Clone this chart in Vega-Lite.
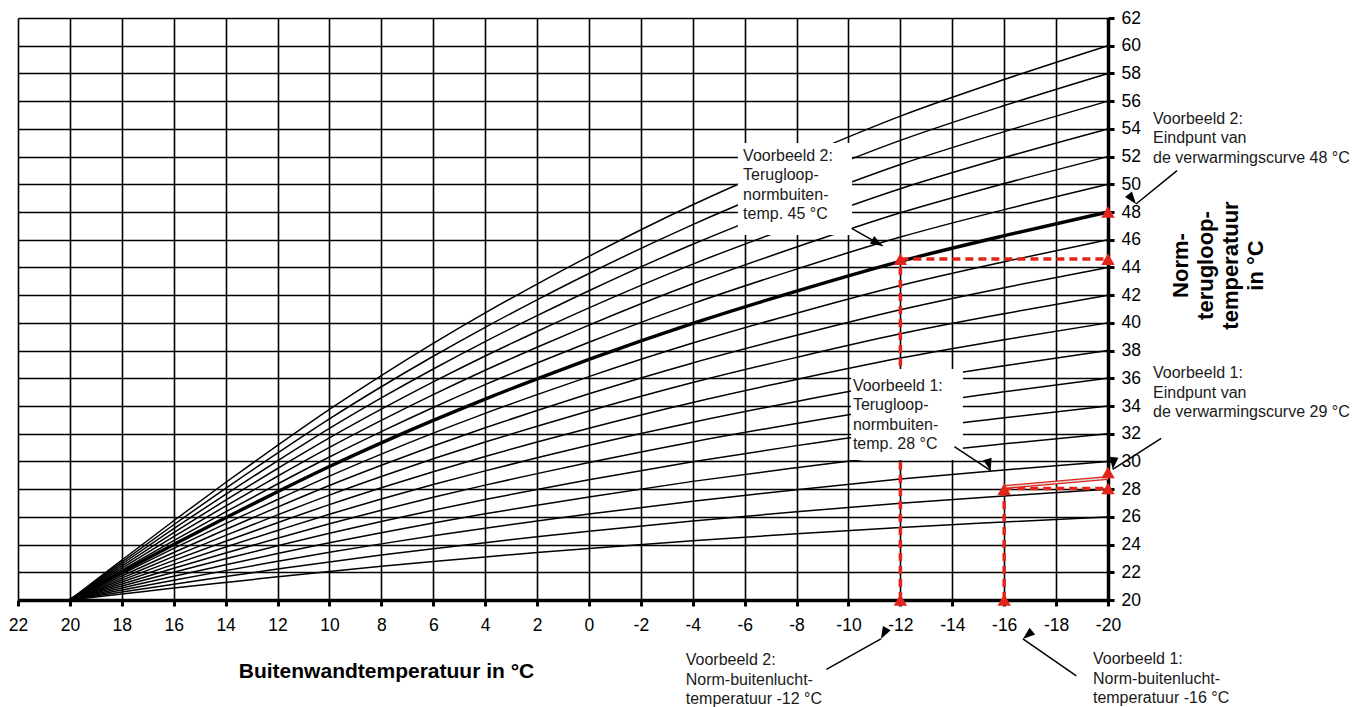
{
  "$schema": "https://vega.github.io/schema/vega-lite/v6.json",
  "width": 1090,
  "height": 582,
  "autosize": {"type": "none"},
  "padding": {"left": 18, "top": 18, "right": 245, "bottom": 107},
  "background": "white",
  "config": {
    "view": {"stroke": null},
    "font": "Liberation Sans",
    "axis": {"labelFont": "Liberation Sans", "titleFont": "Liberation Sans"}
  },
  "datasets": {
    "curves": [
      {"x": 20, "26": 20, "28": 20, "30": 20, "32": 20, "34": 20, "36": 20, "38": 20, "40": 20, "42": 20, "44": 20, "46": 20, "48": 20, "50": 20, "52": 20, "54": 20, "56": 20, "58": 20, "60": 20},
      {"x": 18, "26": 20.43, "28": 20.58, "30": 20.72, "32": 20.86, "34": 21.01, "36": 21.15, "38": 21.30, "40": 21.44, "42": 21.58, "44": 21.73, "46": 21.87, "48": 22.02, "50": 22.16, "52": 22.30, "54": 22.45, "56": 22.59, "58": 22.74, "60": 22.88},
      {"x": 16, "26": 20.86, "28": 21.14, "30": 21.43, "32": 21.72, "34": 22.00, "36": 22.29, "38": 22.57, "40": 22.86, "42": 23.15, "44": 23.43, "46": 23.72, "48": 24.00, "50": 24.29, "52": 24.58, "54": 24.86, "56": 25.15, "58": 25.43, "60": 25.72},
      {"x": 14, "26": 21.27, "28": 21.70, "30": 22.12, "32": 22.54, "34": 22.97, "36": 23.39, "38": 23.82, "40": 24.24, "42": 24.66, "44": 25.09, "46": 25.51, "48": 25.94, "50": 26.36, "52": 26.78, "54": 27.21, "56": 27.63, "58": 28.06, "60": 28.48},
      {"x": 12, "26": 21.67, "28": 22.23, "30": 22.79, "32": 23.35, "34": 23.91, "36": 24.46, "38": 25.02, "40": 25.58, "42": 26.14, "44": 26.70, "46": 27.25, "48": 27.81, "50": 28.37, "52": 28.93, "54": 29.49, "56": 30.04, "58": 30.60, "60": 31.16},
      {"x": 10, "26": 22.06, "28": 22.75, "30": 23.44, "32": 24.13, "34": 24.82, "36": 25.50, "38": 26.19, "40": 26.88, "42": 27.57, "44": 28.26, "46": 28.94, "48": 29.63, "50": 30.32, "52": 31.01, "54": 31.70, "56": 32.38, "58": 33.07, "60": 33.76},
      {"x": 8, "26": 22.43, "28": 23.24, "30": 24.05, "32": 24.86, "34": 25.67, "36": 26.48, "38": 27.29, "40": 28.10, "42": 28.91, "44": 29.72, "46": 30.53, "48": 31.34, "50": 32.15, "52": 32.96, "54": 33.77, "56": 34.58, "58": 35.39, "60": 36.20},
      {"x": 6, "26": 22.78, "28": 23.70, "30": 24.63, "32": 25.56, "34": 26.48, "36": 27.41, "38": 28.33, "40": 29.26, "42": 30.19, "44": 31.11, "46": 32.04, "48": 32.96, "50": 33.89, "52": 34.82, "54": 35.74, "56": 36.67, "58": 37.59, "60": 38.52},
      {"x": 4, "26": 23.11, "28": 24.14, "30": 25.18, "32": 26.22, "34": 27.25, "36": 28.29, "38": 29.32, "40": 30.36, "42": 31.40, "44": 32.43, "46": 33.47, "48": 34.50, "50": 35.54, "52": 36.58, "54": 37.61, "56": 38.65, "58": 39.68, "60": 40.72},
      {"x": 2, "26": 23.42, "28": 24.56, "30": 25.70, "32": 26.84, "34": 27.98, "36": 29.12, "38": 30.26, "40": 31.40, "42": 32.54, "44": 33.68, "46": 34.82, "48": 35.96, "50": 37.10, "52": 38.24, "54": 39.38, "56": 40.52, "58": 41.66, "60": 42.80},
      {"x": 0, "26": 23.72, "28": 24.96, "30": 26.20, "32": 27.44, "34": 28.68, "36": 29.92, "38": 31.16, "40": 32.40, "42": 33.64, "44": 34.88, "46": 36.12, "48": 37.36, "50": 38.60, "52": 39.84, "54": 41.08, "56": 42.32, "58": 43.56, "60": 44.80},
      {"x": -4, "26": 24.28, "28": 25.70, "30": 27.13, "32": 28.56, "34": 29.98, "36": 31.41, "38": 32.83, "40": 34.26, "42": 35.69, "44": 37.11, "46": 38.54, "48": 39.96, "50": 41.39, "52": 42.82, "54": 44.24, "56": 45.67, "58": 47.09, "60": 48.52},
      {"x": -8, "26": 24.78, "28": 26.37, "30": 27.96, "32": 29.55, "34": 31.14, "36": 32.74, "38": 34.33, "40": 35.92, "42": 37.51, "44": 39.10, "46": 40.70, "48": 42.29, "50": 43.88, "52": 45.47, "54": 47.06, "56": 48.66, "58": 50.25, "60": 51.84},
      {"x": -12, "26": 25.24, "28": 26.98, "30": 28.73, "32": 30.48, "34": 32.22, "36": 33.97, "38": 35.71, "40": 37.46, "42": 39.21, "44": 40.95, "46": 42.70, "48": 44.44, "50": 46.19, "52": 47.94, "54": 49.68, "56": 51.43, "58": 53.17, "60": 54.92},
      {"x": -16, "26": 25.63, "28": 27.51, "30": 29.39, "32": 31.27, "34": 33.15, "36": 35.02, "38": 36.90, "40": 38.78, "42": 40.66, "44": 42.54, "46": 44.41, "48": 46.29, "50": 48.17, "52": 50.05, "54": 51.93, "56": 53.80, "58": 55.68, "60": 57.56},
      {"x": -20, "26": 26, "28": 28, "30": 30, "32": 32, "34": 34, "36": 36, "38": 38, "40": 40, "42": 42, "44": 44, "46": 46, "48": 48, "50": 50, "52": 52, "54": 54, "56": 56, "58": 58, "60": 60}
    ],
    "dashes": [
      {"x": -12, "y": 20, "x2": -12, "y2": 44.6},
      {"x": -16, "y": 20, "x2": -16, "y2": 28.0},
      {"x": -12, "y": 44.6, "x2": -20, "y2": 44.6},
      {"x": -16, "y": 28.05, "x2": -20, "y2": 28.05}
    ],
    "example": [
      {"x": -16, "y": 28.15, "x2": -20, "y2": 28.8}
    ],
    "boxes": [
      {"x": -5.74, "x2": -10.14, "y": 46.34, "y2": 52.98},
      {"x": -10.1, "x2": -14.41, "y": 30.1, "y2": 36.67}
    ],
    "notes": [
      {"x": -5.94, "y": 51.70, "label": "Voorbeeld 2:\nTerugloop-\nnormbuiten-\ntemp. 45 °C"},
      {"x": -10.17, "y": 35.10, "label": "Voorbeeld 1:\nTerugloop-\nnormbuiten-\ntemp. 28 °C"},
      {"x": -21.735, "y": 54.37, "label": "Voorbeeld 2:\nEindpunt van\nde verwarmingscurve 48 °C"},
      {"x": -21.735, "y": 35.99, "label": "Voorbeeld 1:\nEindpunt van\nde verwarmingscurve 29 °C"},
      {"x": -3.73, "y": 15.3, "label": "Voorbeeld 2:\nNorm-buitenlucht-\ntemperatuur -12 °C"},
      {"x": -19.42, "y": 15.35, "label": "Voorbeeld 1:\nNorm-buitenlucht-\ntemperatuur -16 °C"}
    ],
    "arrows": [
      {"x": -10.12, "y": 46.82, "x2": -11.32, "y2": 45.55},
      {"x": -22.66, "y": 50.98, "x2": -21.08, "y2": 48.58},
      {"x": -14.08, "y": 31.06, "x2": -15.48, "y2": 29.33},
      {"x": -22.05, "y": 31.67, "x2": -20.18, "y2": 29.43},
      {"x": -9.15, "y": 15.0, "x2": -11.25, "y2": 17.19},
      {"x": -18.78, "y": 14.52, "x2": -16.72, "y2": 17.19}
    ],
    "heads": [
      {"id": "a1", "x": -11.32, "y": 45.55},
      {"id": "a2", "x": -21.08, "y": 48.58},
      {"id": "a3", "x": -15.48, "y": 29.33},
      {"id": "a4", "x": -20.18, "y": 29.43},
      {"id": "a5", "x": -11.25, "y": 17.19},
      {"id": "a6", "x": -16.72, "y": 17.19}
    ],
    "triangles": [
      {"x": -12, "y": 20},
      {"x": -16, "y": 20},
      {"x": -12, "y": 44.6},
      {"x": -20, "y": 44.6},
      {"x": -20, "y": 48},
      {"x": -16, "y": 28.0},
      {"x": -20, "y": 28.05},
      {"x": -20, "y": 29.2}
    ]
  },
  "encoding": {
    "x": {
      "field": "x", "type": "quantitative",
      "scale": {"domain": [-20, 22], "reverse": true, "nice": false, "zero": false},
      "axis": {
        "orient": "bottom",
        "values": [22, 20, 18, 16, 14, 12, 10, 8, 6, 4, 2, 0, -2, -4, -6, -8, -10, -12, -14, -16, -18, -20],
        "tickCount": 22,
        "grid": true, "gridColor": "black", "gridWidth": 1.6, "gridOpacity": 1,
        "domainColor": "black", "domainWidth": 3.5,
        "tickColor": "black", "tickWidth": 3, "tickSize": 6,
        "labelFontSize": 17.5, "labelColor": "black", "labelPadding": 10,
        "labelExpr": "'' + datum.value", "labelFlush": false, "labelOverlap": false,
        "title": "Buitenwandtemperatuur in °C",
        "titleFontSize": 21, "titleFontWeight": "bold", "titleColor": "black",
        "titleX": 368, "titleY": 77, "titleAlign": "center", "titleBaseline": "alphabetic", "titleAnchor": null
      }
    },
    "y": {
      "field": "y", "type": "quantitative",
      "scale": {"domain": [20, 62], "nice": false, "zero": false},
      "axis": {
        "orient": "right",
        "values": [20, 22, 24, 26, 28, 30, 32, 34, 36, 38, 40, 42, 44, 46, 48, 50, 52, 54, 56, 58, 60, 62],
        "tickCount": 22,
        "grid": true, "gridColor": "black", "gridWidth": 1.6, "gridOpacity": 1,
        "domainColor": "black", "domainWidth": 3.5,
        "tickColor": "black", "tickWidth": 3, "tickSize": 6,
        "labelFontSize": 17.5, "labelColor": "black", "labelPadding": 7,
        "labelFlush": false, "labelOverlap": false,
        "title": ["Norm-", "terugloop-", "temperatuur", "in °C"],
        "titleFontSize": 22, "titleFontWeight": "bold", "titleColor": "black",
        "titleAngle": -90, "titleX": 79, "titleY": 247, "titleAlign": "center",
        "titleBaseline": "alphabetic", "titleLineHeight": 25, "titleAnchor": null
      }
    }
  },
  "layer": [
    {
      "data": {"name": "curves"},
      "transform": [
        {"fold": ["26", "28", "30", "32", "34", "36", "38", "40", "42", "44", "46", "48", "50", "52", "54", "56", "58", "60"], "as": ["curve", "y"]}
      ],
      "mark": {"type": "line", "color": "black", "interpolate": "monotone"},
      "encoding": {
        "detail": {"field": "curve"},
        "strokeWidth": {"condition": {"test": "datum.curve === '48'", "value": 3.4}, "value": 1.5}
      }
    },
    {
      "data": {"name": "dashes"},
      "mark": {"type": "rule", "color": "#e1251b", "strokeWidth": 3.5, "strokeDash": [8, 5]},
      "encoding": {"x2": {"field": "x2"}, "y2": {"field": "y2"}}
    },
    {
      "data": {"name": "example"},
      "mark": {"type": "rule", "color": "#e1251b", "strokeWidth": 4},
      "encoding": {"x2": {"field": "x2"}, "y2": {"field": "y2"}}
    },
    {
      "data": {"name": "example"},
      "mark": {"type": "rule", "color": "#d9d9d9", "strokeWidth": 1.5},
      "encoding": {"x2": {"field": "x2"}, "y2": {"field": "y2"}}
    },
    {
      "data": {"name": "boxes"},
      "mark": {"type": "rect", "fill": "white", "stroke": null},
      "encoding": {"x2": {"field": "x2"}, "y2": {"field": "y2"}}
    },
    {
      "data": {"name": "notes"},
      "mark": {"type": "text", "align": "left", "baseline": "alphabetic", "fontSize": 16, "lineHeight": 19.5, "lineBreak": "\n", "color": "#1a1a1a", "font": "Liberation Sans"},
      "encoding": {"text": {"field": "label"}}
    },
    {
      "data": {"name": "arrows"},
      "mark": {"type": "rule", "color": "black", "strokeWidth": 1.5},
      "encoding": {"x2": {"field": "x2"}, "y2": {"field": "y2"}}
    },
    {
      "data": {"name": "heads"},
      "mark": {"type": "point", "shape": "M0,0L-1,-0.36L-1,0.36Z", "filled": true, "color": "black", "opacity": 1, "size": 600},
      "encoding": {
        "angle": {"field": "id", "type": "ordinal", "scale": {"domain": ["a1", "a2", "a3", "a4", "a5", "a6"], "range": [29.7, 140.8, 33.4, 147.4, -29.2, -145.5]}, "legend": null}
      }
    },
    {
      "data": {"name": "triangles"},
      "mark": {"type": "point", "shape": "triangle-up", "filled": true, "color": "#e1251b", "opacity": 1, "size": 180}
    }
  ]
}
